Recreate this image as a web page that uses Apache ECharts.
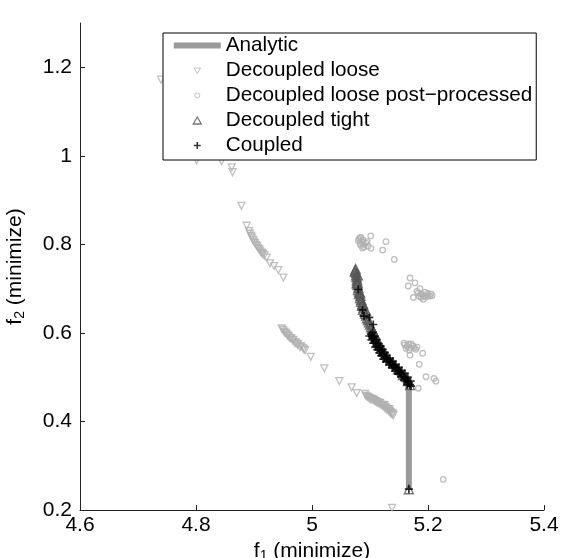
<!DOCTYPE html>
<html><head><meta charset="utf-8">
<script src="https://cdn.jsdelivr.net/npm/echarts@6/dist/echarts.min.js"></script>
<style>html,body{margin:0;padding:0;background:#fff}#c{width:562px;height:558px}</style>
</head><body><div id="c"></div>
<script>
// ---- tick labels ----
const xTicks = [4.6, 4.8, 5.0, 5.2, 5.4];
const yTicks = [0.2, 0.4, 0.6, 0.8, 1.0, 1.2];

// ---- series names ----
const seriesNames = ['Analytic', 'Decoupled loose', 'Decoupled loose post\u2212processed', 'Decoupled tight', 'Coupled'];

// ---- data: [f1, f2] ----
const analytic = [
  [5.075, 0.744], [5.078, 0.700], [5.083, 0.672], [5.089, 0.648], [5.097, 0.622],
  [5.105, 0.600], [5.115, 0.574], [5.126, 0.549], [5.138, 0.527], [5.150, 0.507],
  [5.160, 0.492], [5.167, 0.479], [5.167, 0.245]
];

const decoupledLoose = [
  [4.7397, 1.172], [4.8012, 0.990], [4.8440, 0.988], [4.8616, 0.974], [4.8629, 0.963],
  [4.8784, 0.887], [4.8874, 0.842], [4.8914, 0.830], [4.8948, 0.819], [4.8983, 0.810],
  [4.9017, 0.803], [4.9052, 0.796], [4.9086, 0.789], [4.9121, 0.782], [4.9155, 0.778],
  [4.8930, 0.824], [4.8965, 0.815], [4.9000, 0.806], [4.9035, 0.799], [4.9070, 0.792],
  [4.9105, 0.786], [4.9140, 0.780], [4.9180, 0.775],
  [4.9219, 0.770], [4.9276, 0.757], [4.9345, 0.751], [4.9419, 0.742], [4.9505, 0.725],
  [4.9478, 0.610], [4.9534, 0.600], [4.9580, 0.594], [4.9621, 0.588], [4.9665, 0.583],
  [4.9707, 0.577], [4.9750, 0.573], [4.9793, 0.568], [4.9879, 0.561], [4.9978, 0.546],
  [4.9500, 0.607], [4.9520, 0.603], [4.9550, 0.600], [4.9570, 0.596], [4.9600, 0.592],
  [4.9640, 0.588], [4.9680, 0.584], [4.9720, 0.579], [4.9760, 0.575], [4.9810, 0.570],
  [4.9840, 0.566], [4.9860, 0.563],
  [5.0212, 0.520], [5.0471, 0.491], [5.0684, 0.477], [5.0770, 0.464], [5.0914, 0.462],
  [5.0966, 0.455], [5.1000, 0.452], [5.1034, 0.451], [5.1070, 0.448], [5.1103, 0.446],
  [5.1140, 0.443], [5.1172, 0.442], [5.1210, 0.438], [5.1241, 0.435], [5.1275, 0.432],
  [5.1310, 0.428], [5.1340, 0.424], [5.1362, 0.421], [5.1402, 0.414],
  [5.0930, 0.458], [5.0950, 0.456], [5.0985, 0.453], [5.1015, 0.450], [5.1050, 0.449],
  [5.1085, 0.446], [5.1120, 0.443], [5.1155, 0.440], [5.1190, 0.437], [5.1225, 0.434],
  [5.1260, 0.430], [5.1290, 0.427], [5.1325, 0.423], [5.1350, 0.419], [5.1380, 0.416],
  [5.1395, 0.418], [5.1330, 0.428], [5.1250, 0.437],
  [5.1380, 0.205]
];

const decoupledLoosePost = [
  [5.0828, 0.816], [5.0879, 0.810], [5.0931, 0.803], [5.0828, 0.803], [5.0897, 0.794],
  [5.0966, 0.796], [5.1012, 0.819], [5.1017, 0.791], [5.1276, 0.806], [5.1219, 0.787],
  [5.0810, 0.812], [5.0845, 0.815], [5.0860, 0.806], [5.0900, 0.800], [5.0840, 0.798],
  [5.0870, 0.792], [5.0950, 0.806], [5.0800, 0.808],
  [5.1419, 0.766],
  [5.1690, 0.724], [5.1776, 0.713], [5.1660, 0.706], [5.1862, 0.700], [5.1810, 0.694],
  [5.1879, 0.688], [5.1948, 0.692], [5.2000, 0.685], [5.2052, 0.688], [5.1845, 0.683],
  [5.1966, 0.681], [5.1747, 0.680], [5.1919, 0.676],
  [5.1830, 0.690], [5.1900, 0.686], [5.1930, 0.683], [5.1990, 0.689], [5.2030, 0.683],
  [5.1880, 0.680], [5.2070, 0.684],
  [5.1586, 0.577], [5.1638, 0.570], [5.1707, 0.575], [5.1759, 0.566], [5.1810, 0.568],
  [5.1600, 0.573], [5.1660, 0.575], [5.1690, 0.566], [5.1740, 0.571], [5.1790, 0.563],
  [5.1620, 0.565],
  [5.1672, 0.561], [5.1690, 0.550], [5.1909, 0.554], [5.1850, 0.529], [5.1966, 0.501],
  [5.2103, 0.497], [5.2138, 0.491], [5.1833, 0.475],
  [5.2264, 0.269]
];

const decoupledTight = [
  [5.0753, 0.744], [5.0759, 0.735], [5.0767, 0.726], [5.0776, 0.717], [5.0784, 0.708],
  [5.0793, 0.697], [5.0810, 0.688], [5.0828, 0.679], [5.0845, 0.670], [5.0862, 0.661],
  [5.0879, 0.652], [5.0914, 0.643], [5.0948, 0.633], [5.0983, 0.624], [5.1017, 0.613],
  [5.1052, 0.604], [5.1086, 0.595], [5.1155, 0.577], [5.1224, 0.561], [5.1310, 0.545],
  [5.1397, 0.532], [5.1483, 0.518], [5.1569, 0.505], [5.1655, 0.491], [5.1690, 0.482],
  [5.0740, 0.738], [5.0790, 0.730], [5.0770, 0.712], [5.0830, 0.690], [5.0880, 0.665],
  [5.0930, 0.650],
  [5.0745, 0.741], [5.0762, 0.730], [5.0775, 0.721], [5.0790, 0.712], [5.0800, 0.702],
  [5.0815, 0.693], [5.0835, 0.684], [5.0850, 0.675], [5.0868, 0.666], [5.0890, 0.657],
  [5.0905, 0.648], [5.0935, 0.639], [5.0965, 0.629], [5.1000, 0.619], [5.1035, 0.609],
  [5.1070, 0.600],
  [5.1670, 0.247]
];

const coupled = [
  [5.0798, 0.698], [5.0871, 0.652], [5.0897, 0.638], [5.0988, 0.635], [5.1057, 0.619],
  [5.1017, 0.597], [5.1052, 0.588], [5.1086, 0.581], [5.1121, 0.572], [5.1155, 0.566],
  [5.1190, 0.559], [5.1224, 0.552], [5.1259, 0.545], [5.1310, 0.539], [5.1362, 0.532],
  [5.1414, 0.525], [5.1466, 0.518], [5.1517, 0.511], [5.1569, 0.505], [5.1621, 0.496],
  [5.1672, 0.487], [5.1707, 0.480],
  [5.1047, 0.601], [5.1082, 0.592], [5.1116, 0.585], [5.1151, 0.576], [5.1185, 0.570],
  [5.1220, 0.563], [5.1254, 0.556], [5.1289, 0.549], [5.1340, 0.543], [5.1392, 0.536],
  [5.1444, 0.529], [5.1496, 0.522], [5.1547, 0.515], [5.1599, 0.509], [5.1651, 0.500],
  [5.1700, 0.491],
  [5.0987, 0.593], [5.1022, 0.584], [5.1056, 0.577], [5.1091, 0.568], [5.1125, 0.562],
  [5.1160, 0.555], [5.1194, 0.548], [5.1229, 0.541], [5.1280, 0.535], [5.1332, 0.528],
  [5.1384, 0.521], [5.1436, 0.514], [5.1487, 0.507], [5.1539, 0.501], [5.1591, 0.492],
  [5.1642, 0.483],
  [5.1035, 0.592], [5.1104, 0.577], [5.1172, 0.562], [5.1240, 0.549], [5.1285, 0.542],
  [5.1336, 0.535], [5.1388, 0.528], [5.1440, 0.522], [5.1492, 0.515], [5.1543, 0.508],
  [5.1595, 0.500], [5.1646, 0.491], [5.1690, 0.483],
  [5.1670, 0.247]
];

const FONT = 'Liberation Sans';
const FS = 21;
const C_ANALYTIC = '#9a9a9a';
const C_LOOSE = '#b0b0b0';
const C_TIGHT = '#555555';
const C_COUPLED = '#000000';

const chart = echarts.init(document.getElementById('c'), null, {renderer: 'canvas'});

const legendIcons = [
  'path://M0,0M47,14M0,4L47,4L47,10L0,10Z',
  'path://M0,0M47,14M20.3,4.6L26.7,4.6L23.5,10Z',
  'path://M0,0M47,14M26,7A2.5,2.5,0,1,1,21,7A2.5,2.5,0,1,1,26,7Z',
  'path://M0,0M47,14M19.5,10.5L27.5,10.5L23.5,3.5Z',
  'path://M0,0M47,14M20,7L27,7M23.5,3.5L23.5,10.5'
];
const legendStyles = [
  {color: C_ANALYTIC, borderWidth: 0},
  {color: 'rgba(0,0,0,0)', borderColor: C_LOOSE, borderWidth: 1},
  {color: 'rgba(0,0,0,0)', borderColor: C_LOOSE, borderWidth: 1},
  {color: 'rgba(0,0,0,0)', borderColor: C_TIGHT, borderWidth: 1.3},
  {color: 'rgba(0,0,0,0)', borderColor: C_COUPLED, borderWidth: 1.5}
];

const option = {
  animation: false,
  backgroundColor: '#fff',
  textStyle: {fontFamily: FONT},
  grid: {left: 80, right: 18, top: 23, bottom: 48, containLabel: false, outerBoundsMode: 'none'},
  legend: {
    orient: 'vertical',
    left: 163, top: 33,
    padding: [2, 4, 4, 10],
    itemGap: 4,
    itemWidth: 47, itemHeight: 14,
    backgroundColor: '#fff',
    borderColor: '#000', borderWidth: 1,
    selectedMode: false,
    textStyle: {fontFamily: FONT, fontSize: 20.7, color: '#000'},
    data: seriesNames.map((n, i) => ({name: n, icon: legendIcons[i], itemStyle: legendStyles[i]}))
  },
  xAxis: {
    type: 'value', min: 4.6, max: 5.4, interval: 0.2,
    name: 'f{sub|1} (minimize)', nameLocation: 'middle', nameGap: 26,
    nameTextStyle: {fontFamily: FONT, fontSize: FS, color: '#000',
      rich: {sub: {fontFamily: FONT, fontSize: 14, color: '#000', padding: [9, 0, 0, 0]}}},
    axisLine: {onZero: false, lineStyle: {color: '#222', width: 1}},
    axisTick: {inside: true, length: 5, lineStyle: {color: '#222'}, customValues: xTicks},
    axisLabel: {fontFamily: FONT, fontSize: FS, color: '#000', margin: 5, customValues: xTicks,
      formatter: v => String(+v.toFixed(1))},
    splitLine: {show: false}
  },
  yAxis: {
    type: 'value', min: 0.2, max: 1.3,
    name: 'f{sub|2} (minimize)', nameLocation: 'middle', nameGap: 53, nameRotate: 90,
    nameTextStyle: {fontFamily: FONT, fontSize: FS, color: '#000',
      rich: {sub: {fontFamily: FONT, fontSize: 14, color: '#000', padding: [9, 0, 0, 0]}}},
    axisLine: {onZero: false, lineStyle: {color: '#222', width: 1}},
    axisTick: {inside: true, length: 5, lineStyle: {color: '#222'}, customValues: yTicks},
    axisLabel: {fontFamily: FONT, fontSize: FS, color: '#000', margin: 8, customValues: yTicks,
      formatter: v => String(+v.toFixed(1))},
    splitLine: {show: false}
  },
  series: [
    {
      name: seriesNames[0], type: 'line', data: analytic, showSymbol: false, symbol: 'none',
      lineStyle: {color: C_ANALYTIC, width: 6}, itemStyle: {color: C_ANALYTIC}, z: 1
    },
    {
      name: seriesNames[1], type: 'scatter', data: decoupledLoose, symbol: 'triangle', symbolRotate: 180,
      symbolSize: 7, clip: false,
      itemStyle: {color: 'rgba(0,0,0,0)', borderColor: C_LOOSE, borderWidth: 1.3}, z: 2
    },
    {
      name: seriesNames[2], type: 'scatter', data: decoupledLoosePost, symbol: 'circle',
      symbolSize: 5.5,
      itemStyle: {color: 'rgba(0,0,0,0)', borderColor: C_LOOSE, borderWidth: 1.3}, z: 3
    },
    {
      name: seriesNames[3], type: 'scatter', data: decoupledTight, symbol: 'triangle',
      symbolSize: 9,
      itemStyle: {color: 'rgba(0,0,0,0)', borderColor: C_TIGHT, borderWidth: 1.4}, z: 4
    },
    {
      name: seriesNames[4], type: 'scatter', data: coupled, symbol: 'path://M0,5L10,5M5,0L5,10',
      symbolSize: 8,
      itemStyle: {color: 'rgba(0,0,0,0)', borderColor: C_COUPLED, borderWidth: 1.7}, z: 5
    }
  ]
};
chart.setOption(option);
</script>
</body></html>
